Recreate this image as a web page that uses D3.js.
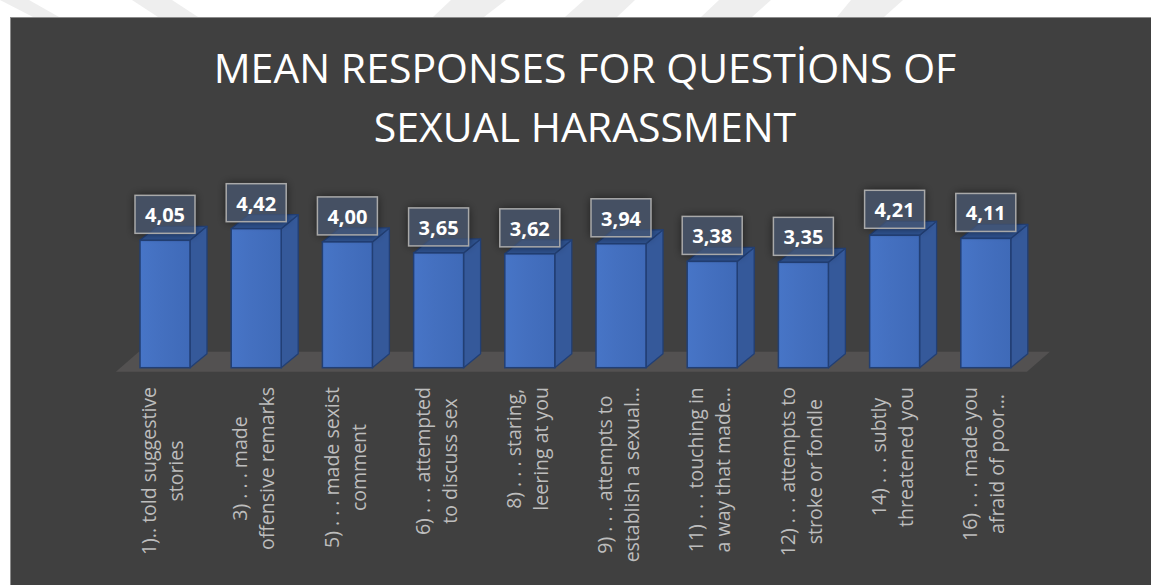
<!DOCTYPE html>
<html>
<head>
<meta charset="utf-8">
<script src="https://cdn.jsdelivr.net/npm/d3@7"></script>
<style>
  html, body { margin: 0; padding: 0; background: #ffffff; }
  svg { display: block; }
</style>
</head>
<body>
<svg id="chart" width="1151" height="585"></svg>
<script>
// Survey items (two wrapped lines each) and their mean scores
const categoryLines = [
  ["1).. told suggestive", "stories"],
  ["3) . . . made", "offensive remarks"],
  ["5) . . . made sexist", "comment"],
  ["6) . . . attempted", "to discuss sex"],
  ["8) . . . staring,", "leering at you"],
  ["9) . . . attempts to", "establish a sexual…"],
  ["11) . . . touching in", "a way that made…"],
  ["12) . . . attempts to", "stroke or fondle"],
  ["14) . . . subtly", "threatened you"],
  ["16) . . . made you", "afraid of poor…"]
];
const categories = categoryLines.map(l => l.join(" "));
const values = [4.05, 4.42, 4.00, 3.65, 3.62, 3.94, 3.38, 3.35, 4.21, 4.11];
const titleLines = ["MEAN RESPONSES FOR QUESTİONS OF", "SEXUAL HARASSMENT"];

const svg = d3.select("#chart");

// Comma decimal separator for the value labels
const locale = d3.formatLocale({ decimal: ",", thousands: ".", grouping: [3], currency: ["", ""] });
const fmt = locale.format(".2f");

const defs = svg.append("defs");
// Soft halo that only shows outside the label box
const halo = defs.append("filter").attr("id", "halo")
  .attr("x", "-50%").attr("y", "-50%").attr("width", "200%").attr("height", "200%");
halo.append("feGaussianBlur").attr("in", "SourceAlpha").attr("stdDeviation", 5).attr("result", "blur");
halo.append("feComposite").attr("in", "blur").attr("in2", "SourceAlpha").attr("operator", "out").attr("result", "ring");
halo.append("feColorMatrix").attr("in", "ring").attr("type", "matrix")
  .attr("values", "0 0 0 0 0  0 0 0 0 0  0 0 0 0 0  0 0 0 0.6 0");

const frontGrad = defs.append("linearGradient").attr("id", "frontGrad")
  .attr("x1", "0").attr("x2", "1").attr("y1", "0").attr("y2", "0");
frontGrad.append("stop").attr("offset", "0%").attr("stop-color", "#4775c7");
frontGrad.append("stop").attr("offset", "40%").attr("stop-color", "#4470c0");
frontGrad.append("stop").attr("offset", "100%").attr("stop-color", "#3f6ab8");

// Faint diagonal marks on the white strip above the panel
const marks = [
  [[0, 0], [29, 0], [59, 17], [33, 17]],
  [[132, 0], [172, 0], [198, 17], [158, 17]],
  [[451, 0], [506, 0], [484, 17], [433, 17]],
  [[584, 0], [635, 0], [617, 17], [565, 17]],
  [[719, 0], [771, 0], [752, 17], [701, 17]],
  [[851, 0], [903, 0], [884, 17], [837, 17]]
];
svg.append("g").selectAll("polygon").data(marks).join("polygon")
  .attr("points", d => d.map(p => p.join(",")).join(" "))
  .attr("fill", "#eeeeee");

// Dark chart panel
svg.append("rect")
  .attr("x", 10.5).attr("y", 17.5).attr("width", 1160).attr("height", 600)
  .attr("fill", "#404040").attr("stroke", "#8c8c8c").attr("stroke-width", 1);

// Title
svg.append("g").selectAll("text").data(titleLines).join("text")
  .attr("x", 585).attr("y", (d, i) => 83 + i * 59)
  .attr("text-anchor", "middle")
  .attr("font-family", "'Open Sans', sans-serif")
  .attr("font-size", 41)
  .attr("fill", "#ffffff")
  .text(d => d);

// Scales
const x = d3.scaleBand().domain(categories).range([119.4, 1031.4])
  .paddingInner(0.452).paddingOuter(0.226);
const y = d3.scaleLinear().domain([0, 5]).range([367.7, 210.45]);
const y0 = y(0);
const dx = 17, dy = -14;          // bar depth
const r = x.range();

// Floor
const floor = [
  [r[0] - 3.5, y0 + 4], [r[1] - 4.5, y0 + 4],
  [r[1] + 18.5, y0 - 16], [r[0] + 19.5, y0 - 16]
];
svg.append("polygon")
  .attr("points", floor.map(p => p.join(",")).join(" "))
  .attr("fill", "#535151");

// 3D bars
const data = categories.map((c, i) => ({ c, v: values[i], lines: categoryLines[i] }));
const bw = x.bandwidth();
const bars = svg.append("g").selectAll("g").data(data).join("g");
const stroke = "#223f74";

bars.append("polygon") // side
  .attr("points", d => {
    const x1 = x(d.c) + bw, yt = y(d.v);
    return [[x1, yt], [x1 + dx, yt + dy], [x1 + dx, y0 + dy], [x1, y0]].map(p => p.join(",")).join(" ");
  })
  .attr("fill", "#35599a").attr("stroke", stroke).attr("stroke-width", 1.3).attr("stroke-linejoin", "round");

bars.append("polygon") // top
  .attr("points", d => {
    const x0 = x(d.c), yt = y(d.v);
    return [[x0, yt], [x0 + dx, yt + dy], [x0 + bw + dx, yt + dy], [x0 + bw, yt]].map(p => p.join(",")).join(" ");
  })
  .attr("fill", "#2f5391").attr("stroke", stroke).attr("stroke-width", 1.3).attr("stroke-linejoin", "round");

bars.append("rect") // front
  .attr("x", d => x(d.c)).attr("y", d => y(d.v))
  .attr("width", bw).attr("height", d => y0 - y(d.v))
  .attr("fill", "url(#frontGrad)").attr("stroke", stroke).attr("stroke-width", 1.5);

// Value labels in translucent boxes
const boxW = 60, boxH = 38;
const lbl = svg.append("g").selectAll("g").data(data).join("g")
  .attr("transform", d => `translate(${x(d.c) + bw / 2},${y(d.v) - 7 - boxH})`);
lbl.append("rect")
  .attr("x", -boxW / 2).attr("y", 0).attr("width", boxW).attr("height", boxH)
  .attr("fill", "#000").attr("filter", "url(#halo)");
lbl.append("rect")
  .attr("x", -boxW / 2).attr("y", 0).attr("width", boxW).attr("height", boxH)
  .attr("fill", "rgba(70,86,112,0.72)")
  .attr("stroke", "#a9a9a9").attr("stroke-width", 1.5);
lbl.append("text")
  .attr("x", 0).attr("y", boxH - 11)
  .attr("text-anchor", "middle")
  .attr("font-family", "'Open Sans', sans-serif")
  .attr("font-weight", 700).attr("font-size", 20)
  .attr("fill", "#ffffff")
  .text(d => fmt(d.v));

// Rotated category labels: block anchored just below the floor, lines centred
const labelTop = 387, lineStep = 27;
const cat = svg.append("g").selectAll("g").data(data).join("g");
cat.each(function (d) {
  const g = d3.select(this);
  const cx = x(d.c) + bw / 2;
  const texts = d.lines.map(t => g.append("text")
    .attr("font-family", "'Open Sans', sans-serif")
    .attr("font-size", 19.5)
    .attr("fill", "#bdbdbd")
    .attr("text-anchor", "middle")
    .text(t));
  const maxLen = d3.max(texts, t => t.node().getComputedTextLength());
  const cy = labelTop + maxLen / 2;
  const n = d.lines.length;
  texts.forEach((t, i) => {
    const bx = cx + 4.7 + (i - (n - 1) / 2) * lineStep;
    t.attr("transform", `translate(${bx},${cy}) rotate(-90)`);
  });
});
</script>
</body>
</html>
